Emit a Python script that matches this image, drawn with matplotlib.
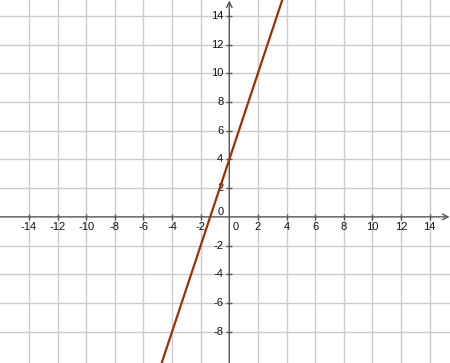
import numpy as np
import matplotlib
matplotlib.use('Agg')
from matplotlib import pyplot as plt
from matplotlib.transforms import ScaledTranslation

plt.rcParams['font.family'] = ['Liberation Sans', 'DejaVu Sans']

# line y = slope*x + intercept
slope = 3
intercept = 4
x_ticks = [-14, -12, -10, -8, -6, -4, -2, 2, 4, 6, 8, 10, 12, 14]
y_ticks = [-8, -6, -4, -2, 2, 4, 6, 8, 10, 12, 14]

fig = plt.figure(figsize=(4.5, 3.63), dpi=100)
ax = fig.add_axes([0, 0, 1, 1])
ax.set_xlim(-16.03, 15.43)
ax.set_ylim(-10.18, 15.11)
for s in ax.spines.values():
    s.set_visible(False)
ax.set_xticks([])
ax.set_yticks([])

grid_c = '#cccccc'
for v in x_ticks:
    ax.axvline(v, color=grid_c, lw=1, zorder=0)
for v in y_ticks:
    ax.axhline(v, color=grid_c, lw=1, zorder=0)

axis_c = '#555555'
ax.annotate('', xy=(15.4, 0), xytext=(-16.03, 0),
            arrowprops=dict(arrowstyle='->', color=axis_c, lw=1, shrinkA=0, shrinkB=0))
ax.annotate('', xy=(0, 15.08), xytext=(0, -10.18),
            arrowprops=dict(arrowstyle='->', color=axis_c, lw=1, shrinkA=0, shrinkB=0))

# small ticks on axes
ax.plot(x_ticks, [0] * len(x_ticks), ls='none', marker='|', ms=5, color=axis_c, mew=1)
ax.plot([0] * len(y_ticks), y_ticks, ls='none', marker='_', ms=5, color=axis_c, mew=1)

def off(dx, dy):
    return ax.transData + ScaledTranslation(dx / 100, dy / 100, fig.dpi_scale_trans)

fs = 8
tc = '#111111'
for v in x_ticks:
    ax.text(v, 0, str(v), transform=off(0, -10), ha='center', va='center', fontsize=fs, color=tc)
for v in y_ticks:
    ax.text(0, v, str(v), transform=off(-6, 0), ha='right', va='center', fontsize=fs, color=tc)
ax.text(0, 0, '0', transform=off(6, -10), ha='center', va='center', fontsize=fs, color=tc)
ax.text(0, 0, '0', transform=off(-9, 5), ha='center', va='center', fontsize=fs, color=tc)

xs = np.array([-6, 5])
ax.plot(xs, slope * xs + intercept, color='#993300', lw=1.6, zorder=3)

fig.savefig('out.png', dpi=100)
